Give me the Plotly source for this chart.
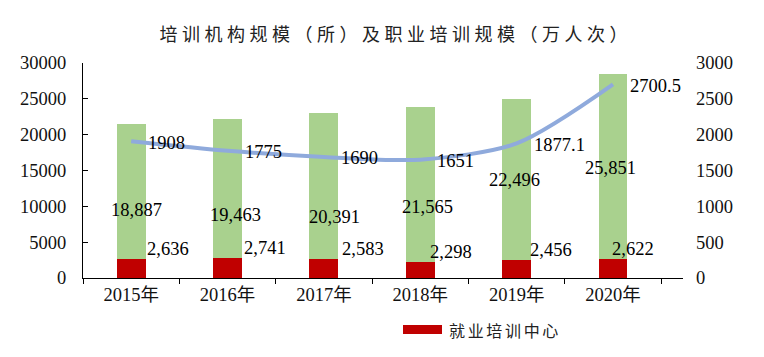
import plotly.graph_objects as go

# ---- data ----
years = ["2015年", "2016年", "2017年", "2018年", "2019年", "2020年"]
center_counts = [2636, 2741, 2583, 2298, 2456, 2622]          # 就业培训中心 (所)
other_counts = [18887, 19463, 20391, 21565, 22496, 25851]     # 其他培训机构 (所)
training_scale = [1908, 1775, 1690, 1651, 1877.1, 2700.5]      # 职业培训规模 (万人次)
left_ticks = [0, 5000, 10000, 15000, 20000, 25000, 30000]
right_ticks = [0, 500, 1000, 1500, 2000, 2500, 3000]

# ---- label placement tweaks (pixels) ----
red_dx = [37, 37, 39, 31, 34, 20]
green_dx = [5, 8, 11, 7, -2, -3]
green_dy = [-19, -26, -31, -23, 0, -1]

RED = "#C00000"
GREEN = "#A9D18E"
BLUE = "#8FAADC"
SERIF = "'Liberation Serif', 'Times New Roman', 'DejaVu Serif', 'Noto Sans CJK SC', serif"
CJK = "'Noto Sans CJK SC', sans-serif"
NUM_SIZE = 18.5

# the page body adds an 8px offset; figure is sized so it fits in the window
OFF = 8
W, H = 764 - OFF, 357 - OFF
PL, PR, PT, PB = 83 - OFF, 683 - OFF, 63 - OFF, 278 - OFF  # plot area in figure px

fig = go.Figure()
fig.add_trace(go.Bar(x=years, y=center_counts, name="就业培训中心",
                     marker=dict(color=RED, line=dict(width=0)), showlegend=False))
fig.add_trace(go.Bar(x=years, y=other_counts, name="其他培训机构",
                     marker=dict(color=GREEN, line=dict(width=0)), showlegend=False))
fig.add_trace(go.Scatter(x=years, y=training_scale, name="职业培训规模", yaxis="y2",
                         mode="lines", line=dict(color=BLUE, width=4, shape="spline", smoothing=0.8),
                         showlegend=False))

ann = []
for i, yr in enumerate(years):
    ann.append(dict(x=yr, y=center_counts[i], xref="x", yref="y", text=f"{center_counts[i]:,}",
                    showarrow=False, xanchor="center", yanchor="middle",
                    xshift=red_dx[i], yshift=10, font=dict(family=SERIF, size=NUM_SIZE, color="#000")))
    ann.append(dict(x=yr, y=center_counts[i] + other_counts[i] / 2, xref="x", yref="y",
                    text=f"{other_counts[i]:,}", showarrow=False, xanchor="center", yanchor="middle",
                    xshift=green_dx[i], yshift=green_dy[i],
                    font=dict(family=SERIF, size=NUM_SIZE, color="#000")))
    ann.append(dict(x=yr, y=training_scale[i], xref="x", yref="y2", text=f"{training_scale[i]:g}",
                    showarrow=False, xanchor="left", yanchor="middle", xshift=15, yshift=-1.5,
                    font=dict(family=SERIF, size=NUM_SIZE, color="#000")))

pw, ph = PR - PL, PB - PT
def px_x(v):
    return (v - OFF - PL) / pw
def px_y(v):
    return (PB - (v - OFF)) / ph

# manual legend
legend_text = "\u2006".join("就业培训中心")
ann.append(dict(x=px_x(447), y=px_y(330), xref="paper", yref="paper", text=legend_text,
                showarrow=False, xanchor="left", yanchor="middle",
                font=dict(family=CJK, size=16, color="#222")))
shapes = [dict(type="rect", xref="paper", yref="paper",
               x0=px_x(403), x1=px_x(442), y0=px_y(334), y1=px_y(325),
               fillcolor=RED, line=dict(width=0))]

title_text = "\u2005".join("培训机构规模（所）及职业培训规模（万人次）")

fig.update_layout(
    width=W, height=H,
    margin=dict(l=PL, r=W - PR, t=PT, b=H - PB, autoexpand=False),
    paper_bgcolor="white", plot_bgcolor="white",
    barmode="stack", bargap=0.7,
    title=dict(text=title_text, x=(393.5 - OFF) / W, xref="container", xanchor="center",
               y=1 - (35 - OFF) / H, yref="container", yanchor="middle",
               font=dict(family=CJK, size=18, color="#222")),
    xaxis=dict(type="category", showline=True, linecolor="#000", linewidth=1.2, automargin=False,
               ticks="outside", tickson="boundaries", ticklen=5, tickcolor="#000",
               tickfont=dict(family=SERIF, size=NUM_SIZE, color="#111"), showgrid=False),
    yaxis=dict(range=[0, 30000], tickvals=left_ticks, ticktext=[str(v) for v in left_ticks],
               showline=True, linecolor="#000", linewidth=1.2, ticks="inside", ticklen=5,
               tickcolor="#000", showgrid=False, zeroline=False, ticklabelstandoff=12,
               automargin=False, tickfont=dict(family=SERIF, size=NUM_SIZE, color="#111")),
    yaxis2=dict(range=[0, 3000], tickvals=right_ticks, ticktext=[str(v) for v in right_ticks],
                overlaying="y", side="right", showline=False, ticks="", showgrid=False,
                zeroline=False, ticklabelstandoff=12, automargin=False,
                tickfont=dict(family=SERIF, size=NUM_SIZE, color="#111")),
    annotations=ann, shapes=shapes, showlegend=False,
)

fig.write_html("out.html")
